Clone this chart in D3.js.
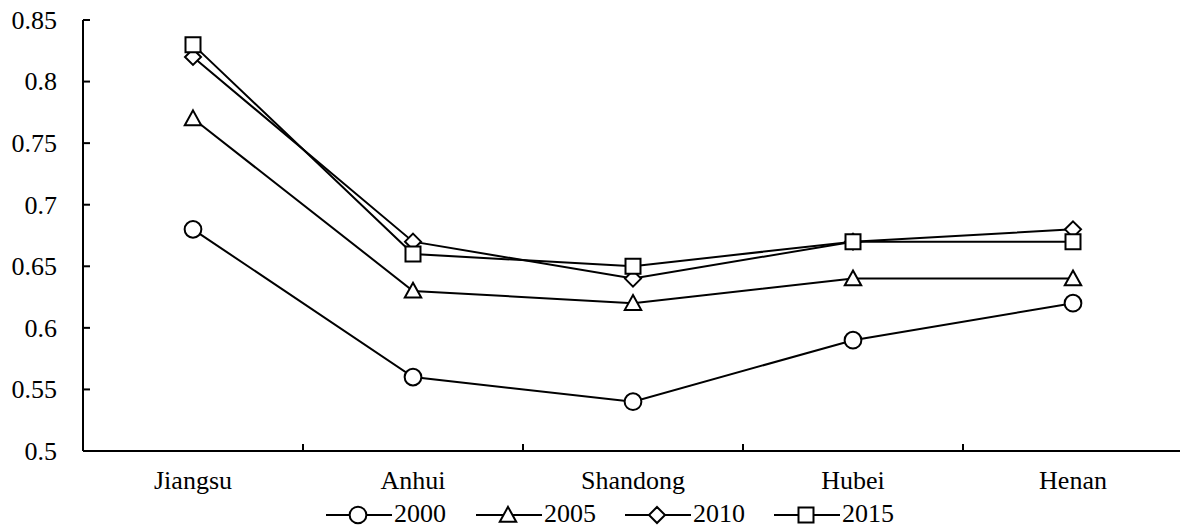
<!DOCTYPE html>
<html><head><meta charset="utf-8">
<script src="https://cdn.jsdelivr.net/npm/d3@7"></script>
<style>body{margin:0;background:#fff}svg{display:block}</style>
</head><body><svg id="c" width="1180" height="530"></svg>
<script>
const categories = ["Jiangsu","Anhui","Shandong","Hubei","Henan"];
const seriesNames = ["2000","2005","2010","2015"];
const v2000 = [0.68,0.56,0.54,0.59,0.62];
const v2005 = [0.77,0.63,0.62,0.64,0.64];
const v2010 = [0.82,0.67,0.64,0.67,0.68];
const v2015 = [0.83,0.66,0.65,0.67,0.67];
const yTicks = [0.5,0.55,0.6,0.65,0.7,0.75,0.8,0.85];
const yTickLabels = ["0.5","0.55","0.6","0.65","0.7","0.75","0.8","0.85"];

const FONT = '"Liberation Serif"';
const FS = 26;
const diamondSq = {draw(ctx, size){ const r = Math.sqrt(size/2); ctx.moveTo(0,-r); ctx.lineTo(r,0); ctx.lineTo(0,r); ctx.lineTo(-r,0); ctx.closePath(); }};
const triEq = {draw(ctx, size){ const s = Math.sqrt(size); const h = s*0.9; ctx.moveTo(0,-h*0.55); ctx.lineTo(s/2,h*0.45); ctx.lineTo(-s/2,h*0.45); ctx.closePath(); }};
const shapes = [d3.symbolCircle, triEq, diamondSq, d3.symbolSquare];
const sizes = [220, 270, 128, 225];

const series = [v2000,v2005,v2010,v2015];
const svg = d3.select("#c").style("font-family",FONT);
const x = d3.scaleBand().domain(categories).range([83,1183]);
const y = d3.scaleLinear().domain([0.5,0.85]).range([451,20]);

const gy = svg.append("g").attr("transform","translate(83,0)");
gy.append("line").attr("x1",0).attr("x2",0).attr("y1",y(0.85)).attr("y2",y(0.5)).attr("stroke","#000").attr("stroke-width",2);
yTicks.forEach((t,i)=>{
  gy.append("line").attr("x1",0).attr("x2",7).attr("y1",y(t)).attr("y2",y(t)).attr("stroke","#000").attr("stroke-width",2);
  gy.append("text").attr("x",-26).attr("y",y(t)).attr("dy","0.34em").attr("text-anchor","end")
    .style("font-family",FONT).attr("font-size",FS).text(yTickLabels[i]);
});
const gx = svg.append("g");
gx.append("line").attr("x1",83).attr("x2",1180).attr("y1",y(0.5)).attr("y2",y(0.5)).attr("stroke","#000").attr("stroke-width",2);
categories.slice(1).forEach(c=>{
  gx.append("line").attr("x1",x(c)).attr("x2",x(c)).attr("y1",y(0.5)).attr("y2",y(0.5)-7).attr("stroke","#000").attr("stroke-width",2);
});
categories.forEach(c=>{
  gx.append("text").attr("x",x(c)+x.bandwidth()/2).attr("y",489).attr("text-anchor","middle")
    .style("font-family",FONT).attr("font-size",FS).text(c);
});

const line = d3.line().x((d,i)=>x(categories[i])+x.bandwidth()/2).y(d=>y(d));
series.forEach(s=>{
  svg.append("path").datum(s).attr("d",line).attr("fill","none").attr("stroke","#000").attr("stroke-width",2);
});
series.forEach((s,k)=>{
  svg.selectAll(null).data(s).enter().append("path")
    .attr("d",d3.symbol().type(shapes[k]).size(sizes[k]))
    .attr("transform",(d,i)=>`translate(${x(categories[i])+x.bandwidth()/2},${y(d)})`)
    .attr("fill","#fff").attr("stroke","#000").attr("stroke-width",2);
});

const legX = [326,476,625,774];
seriesNames.forEach((n,k)=>{
  const g = svg.append("g").attr("transform",`translate(${legX[k]},515)`);
  g.append("line").attr("x1",0).attr("x2",66).attr("y1",0).attr("y2",0).attr("stroke","#000").attr("stroke-width",2);
  g.append("path").attr("d",d3.symbol().type(shapes[k]).size(sizes[k])).attr("transform","translate(32,0)").attr("fill","#fff").attr("stroke","#000").attr("stroke-width",2);
  g.append("text").attr("x",68).attr("y",7).style("font-family",FONT).attr("font-size",FS).text(n);
});
</script></body></html>
